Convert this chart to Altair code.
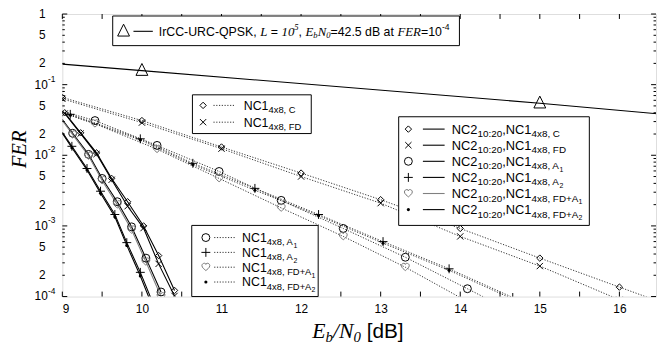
import altair as alt
import pandas as pd

# ---------------- values ----------------
x_tick_labels = [9, 10, 11, 12, 13, 14, 15, 16]
x_tick_all = [9, 9.5, 10, 10.5, 11, 11.5, 12, 12.5, 13, 13.5, 14, 14.5, 15, 15.5, 16]
y_decades = [1, 0.1, 0.01, 0.001, 0.0001]
y_digit_vals = [1, 0.5, 0.2, 0.05, 0.02, 0.005, 0.002, 5e-4, 2e-4]
y_digit_txt = ["1", "5", "2", "5", "2", "5", "2", "5", "2"]
y_pow_vals = [0.1, 0.01, 0.001, 1e-4]
y_pow_txt = ["-1", "-2", "-3", "-4"]
y_minor = [m * d for d in [0.1, 0.01, 0.001, 0.0001] for m in range(2, 10)]

# IrCC-URC-QPSK reference line
irc_x = [9.0, 10.0, 15.0, 16.5]
irc_fer = [0.195, 0.158, 0.0546, 0.0385]
irc_mk = [0, 1, 1, 0]

# NC1 (dotted)
nc1_c_x = [9, 10, 11, 12, 13, 14, 15, 16, 17]
nc1_c_fer = [0.066, 0.031, 0.0131, 0.0056, 0.00235, 9.2e-4, 3.5e-4, 1.36e-4, 5.3e-5]
nc1_fd_x = [9, 10, 11, 12, 13, 14, 15, 16]
nc1_fd_fer = [0.063, 0.029, 0.0124, 0.0050, 0.0021, 7.1e-4, 2.7e-4, 9.0e-5]
nc1_a1_x = [9.0, 9.41, 10.19, 10.97, 11.75, 12.53, 13.31, 14.09, 14.87]
nc1_a1_fer = [0.042, 0.031, 0.0138, 0.0059, 0.0023, 9.2e-4, 3.6e-4, 1.29e-4, 4.6e-5]
nc1_fda1_fer = [0.040, 0.028, 0.0122, 0.0047, 0.0018, 7.1e-4, 2.6e-4, 8.5e-5, 3.0e-5]
nc1_a_mk = [0, 1, 1, 1, 1, 1, 1, 1, 1]
nc1_a2_x = [9.0, 9.1, 9.98, 10.64, 11.42, 12.22, 13.03, 13.86, 14.66]
nc1_a2_fer = [0.041, 0.038, 0.0171, 0.0077, 0.0034, 0.00145, 6.0e-4, 2.47e-4, 9.7e-5]
nc1_fda2_fer = [0.040, 0.037, 0.0165, 0.0074, 0.0032, 0.0014, 5.7e-4, 2.35e-4, 9.2e-5]

# NC2_10:20 + NC1 (solid)
nc2_c_x = [9.03, 9.23, 9.43, 9.62, 9.82, 10.02, 10.21, 10.41]
nc2_c_fer = [0.040, 0.0208, 0.0108, 0.0047, 0.0022, 0.0010, 3.8e-4, 1.22e-4]
nc2_fd_fer = [0.039, 0.0203, 0.0104, 0.0045, 0.0019, 9.3e-4, 2.9e-4, 1.02e-4]
nc2_a1_x = [9.0, 9.13, 9.33, 9.50, 9.69, 9.87, 10.05, 10.24]
nc2_a1_fer = [0.032, 0.0205, 0.0103, 0.0047, 0.0022, 9.7e-4, 3.5e-4, 1.16e-4]
nc2_fda1_fer = [0.031, 0.0196, 0.0098, 0.0044, 0.0020, 8.8e-4, 3.1e-4, 1.0e-4]
nc2_a2_x = [9.0, 9.12, 9.31, 9.48, 9.66, 9.81, 9.98, 10.15]
nc2_a2_fer = [0.0212, 0.0134, 0.0065, 0.0031, 0.00145, 5.8e-4, 2.2e-4, 7.5e-5]
nc2_fda2_fer = [0.0205, 0.0128, 0.0062, 0.0029, 0.00135, 5.3e-4, 1.95e-4, 6.5e-5]
nc2_mk_first_off = [0, 1, 1, 1, 1, 1, 1, 1]
nc2_mk_all = [1, 1, 1, 1, 1, 1, 1, 1]

series = [
    ("irc", irc_x, irc_fer, irc_mk, "irc", "tri"),
    ("nc1_c", nc1_c_x, nc1_c_fer, [1] * 9, "dot", "diamond"),
    ("nc1_fd", nc1_fd_x, nc1_fd_fer, [1] * 8, "dot", "x"),
    ("nc1_a1", nc1_a1_x, nc1_a1_fer, nc1_a_mk, "dot", "circle"),
    ("nc1_fda1", nc1_a1_x, nc1_fda1_fer, nc1_a_mk, "dot", "heart"),
    ("nc1_a2", nc1_a2_x, nc1_a2_fer, nc1_a_mk, "dot", "plus"),
    ("nc1_fda2", nc1_a2_x, nc1_fda2_fer, nc1_a_mk, "dot", "dotm"),
    ("nc2_c", nc2_c_x, nc2_c_fer, nc2_mk_all, "solid", "diamond"),
    ("nc2_fd", nc2_c_x, nc2_fd_fer, nc2_mk_all, "solid", "x"),
    ("nc2_a1", nc2_a1_x, nc2_a1_fer, nc2_mk_first_off, "solid", "circle"),
    ("nc2_fda1", nc2_a1_x, nc2_fda1_fer, nc2_mk_first_off, "gray", "heart"),
    ("nc2_a2", nc2_a2_x, nc2_a2_fer, nc2_mk_first_off, "solid", "plus"),
    ("nc2_fda2", nc2_a2_x, nc2_fda2_fer, nc2_mk_first_off, "solid", "dotm"),
]

# ---------------- layout ----------------
W, H = 601, 286
OX, OY = 63, 12  # page position of plot origin

HEART = ("M0,0.85 C-0.25,0.6 -1,0.15 -1,-0.4 C-1,-0.8 -0.65,-1 -0.35,-1 "
         "C-0.15,-1 0,-0.85 0,-0.7 C0,-0.85 0.15,-1 0.35,-1 C0.65,-1 1,-0.8 1,-0.4 "
         "C1,0.15 0.25,0.6 0,0.85 Z")
SHAPES = {
    "diamond": ("diamond", 42, False, "black"),
    "x": ("M-1,-1L1,1M-1,1L1,-1", 40, False, "black"),
    "circle": ("circle", 64, False, "black"),
    "plus": ("M-1,0L1,0M0,-1L0,1", 81, False, "black"),
    "heart": (HEART, 64, False, "#777777"),
    "dotm": ("circle", 10, True, "black"),
    "tri": ("M0,-1.2L-1,0.8L1,0.8Z", 144, False, "black"),
}
LINESTYLE = {
    "irc": dict(color="black", strokeWidth=1.1),
    "dot": dict(color="#333333", strokeWidth=1, strokeDash=[1.2, 1.6]),
    "solid": dict(color="black", strokeWidth=1.1),
    "gray": dict(color="#808080", strokeWidth=1.1),
}

line_rows, mark_rows = [], []
for name, xs, fs, mk, sty, shp in series:
    for i, (xv, fv) in enumerate(zip(xs, fs)):
        line_rows.append(dict(s=name, o=i, x=xv, fer=fv, sty=sty))
        if mk[i]:
            mark_rows.append(dict(s=name, x=xv, fer=fv, shp=shp))
lines = pd.DataFrame(line_rows)
marks = pd.DataFrame(mark_rows)

xs_ = alt.Scale(domain=[9, 16.46], nice=False, zero=False)
ys_ = alt.Scale(type="log", domain=[1e-4, 1], nice=False)
xaxis = alt.Axis(values=x_tick_labels, format="d", labelFontSize=12, labelFont="Liberation Sans",
                 labelColor="black", ticks=False, domain=False, grid=False, labelPadding=7, title=None)
X = alt.X("x:Q", scale=xs_, axis=xaxis)
Y = alt.Y("fer:Q", scale=ys_, axis=None)

layers = []
for sty, kw in LINESTYLE.items():
    d = lines[lines.sty == sty]
    layers.append(alt.Chart(d).mark_line(clip=True, **kw).encode(
        x=X, y=Y, detail="s:N", order="o:Q"))
for shp, (shape, size, filled, col) in SHAPES.items():
    d = marks[marks.shp == shp]
    if len(d) == 0:
        continue
    layers.append(alt.Chart(d).mark_point(shape=shape, size=size, filled=filled, color=col,
                                          strokeWidth=1, opacity=1, clip=True).encode(x=X, y=Y))

# ticks (inward, all four sides)
xt = pd.DataFrame({"x": x_tick_all})
for y0, y1 in [(H - 5, H), (0, 5)]:
    layers.append(alt.Chart(xt).mark_rule(color="black", strokeWidth=1).encode(
        x=X, y=alt.value(y0), y2=alt.value(y1)))
for vals, ln in [(y_decades, 5), (y_minor, 2.5)]:
    yt = pd.DataFrame({"fer": vals})
    for x0, x1 in [(0, ln), (W - ln, W)]:
        layers.append(alt.Chart(yt).mark_rule(color="black", strokeWidth=1).encode(
            y=Y, x=alt.value(x0), x2=alt.value(x1)))

# y tick labels
ydig = pd.DataFrame({"fer": y_digit_vals, "t": y_digit_txt})
layers.append(alt.Chart(ydig).mark_text(align="right", baseline="middle", font="Liberation Sans",
                                        fontSize=12, color="black").encode(
    y=Y, x=alt.value(-17), text="t:N"))
ydec = pd.DataFrame({"fer": y_pow_vals, "t": ["10"] * 4, "e": y_pow_txt})
layers.append(alt.Chart(ydec).mark_text(align="right", baseline="middle", font="Liberation Sans",
                                        fontSize=12, color="black").encode(
    y=Y, x=alt.value(-14.7), text="t:N"))
layers.append(alt.Chart(ydec).mark_text(align="left", baseline="middle", font="Liberation Sans",
                                        fontSize=8.5, dy=-6, color="black").encode(
    y=Y, x=alt.value(-14.5), text="e:N"))

# ---------------- legends & titles (pixel layout) ----------------
SANS_W = {' ': 278, ',': 278, '-': 333, '.': 278, ':': 278, '=': 584, '+': 584, '[': 278, ']': 278,
          'A': 667, 'B': 667, 'C': 722, 'D': 722, 'E': 667, 'F': 611, 'I': 278, 'K': 667, 'L': 556,
          'N': 722, 'P': 667, 'Q': 778, 'R': 722, 'S': 667, 'U': 722, 'a': 556, 'b': 556, 'd': 556,
          'r': 333, 't': 278, 'x': 500}
SER_W = {'E': 611, 'N': 667, 'F': 611, 'R': 611, 'L': 556, 'b': 500, '/': 278, ' ': 250}


def tw(s, fam, fs):
    tab, dflt = (SANS_W, 556) if fam == "sans" else (SER_W, 500)
    return sum(tab.get(c, dflt) for c in s) / 1000.0 * fs


segs = []


def runs(x, y, parts):
    for t, fam, fs, dy in parts:
        core = t.lstrip(" ")
        x += tw(t[: len(t) - len(core)], fam, fs)
        if core:
            segs.append(dict(px=x - OX, py=y + dy - OY, text=core, fs=fs, fam=fam))
        x += tw(core, fam, fs)


boxes, samples, lmarks = [], [], []


def box(x1, y1, x2, y2):
    boxes.append(dict(x1=x1 - OX, x2=x2 - OX, y1=y1 - OY, y2=y2 - OY))


def sample(x1, x2, y, sty):
    samples.append(dict(x1=x1 - OX, x2=x2 - OX, y=y - OY, sty=sty))


def lmark(x, y, shp):
    lmarks.append(dict(px=x - OX, py=y - OY, shp=shp))


# IrCC legend
box(114, 14, 465, 44)
lmark(125, 29.5, "tri")
sample(135, 154.6, 29.5, "irc")
runs(160.6, 34, [("IrCC-URC-QPSK, ", "sans", 12.5, 0), ("L", "ser", 13, 0), (" = ", "sans", 12.5, 0),
                 ("10", "ser", 13, 0), ("5", "ser", 8.7, -5.5), (", ", "sans", 12.5, 0),
                 ("E", "ser", 13, 0), ("b", "ser", 8.7, 2.5), ("N", "ser", 13, 0),
                 ("0", "ser", 8.7, 2.5), ("=42.5 dB at ", "sans", 12.5, 0), ("FER", "ser", 13, 0),
                 ("=10", "sans", 12.5, 0), ("-4", "sans", 8.7, -5.5)])

SUFFIX = {"diamond": ("C", ""), "x": ("FD", ""), "circle": ("A", "1"), "plus": ("A", "2"),
          "heart": ("FD+A", "1"), "dotm": ("FD+A", "2")}


def nc_parts(shp, nc2, fm, fsub):
    a, b = SUFFIX[shp]
    p = []
    if nc2:
        p += [("NC2", "sans", fm, 0), ("10:20", "sans", fsub, 3.5), (",NC1", "sans", fm, 0)]
    else:
        p += [("NC1", "sans", fm, 0)]
    p += [("4x8, " + a, "sans", fsub, 3.5)]
    if b:
        p += [(b, "sans", 7, 6)]
    return p


# NC1 upper legend (C, FD)
box(194.7, 93.8, 315, 133)
for i, shp in enumerate(["diamond", "x"]):
    yc = 104.5 + 17 * i
    lmark(205.5, yc, shp)
    sample(216, 237, yc, "dot")
    runs(246.7, yc + 4.5, nc_parts(shp, False, 12.5, 9.5))

# NC2 legend
box(403.5, 116, 596.5, 226)
for i, shp in enumerate(["diamond", "x", "circle", "plus", "heart", "dotm"]):
    yc = 128.5 + 16.3 * i
    lmark(413.3, yc, shp)
    sample(428, 450, yc, "gray" if shp == "heart" else "solid")
    runs(457.3, yc + 4.6, nc_parts(shp, True, 13, 10))

# NC1 lower legend
box(194, 226, 322, 298)
for i, shp in enumerate(["circle", "plus", "heart", "dotm"]):
    yc = 238.3 + 15 * i
    lmark(208.3, yc, shp)
    sample(216.7, 238.3, yc, "dot")
    runs(245, yc + 4.5, nc_parts(shp, False, 12.5, 9.5))

# x-axis title
runs(316, 340, [("E", "ser", 22, 0), ("b", "ser", 15, 4), ("/", "ser", 22, 0), ("N", "ser", 22, 0),
                ("0", "ser", 15, 4), (" [dB]", "sans", 21, 0)])

PX = dict(scale=None, axis=None)
bx = pd.DataFrame(boxes)
layers.append(alt.Chart(bx).mark_rect(fill="white", stroke="black", strokeWidth=1).encode(
    x=alt.X("x1:Q", **PX), x2="x2:Q", y=alt.Y("y1:Q", **PX), y2="y2:Q"))
sm = pd.DataFrame(samples)
for sty, kw in LINESTYLE.items():
    d = sm[sm.sty == sty]
    if len(d) == 0:
        continue
    layers.append(alt.Chart(d).mark_rule(**kw).encode(
        x=alt.X("x1:Q", **PX), x2="x2:Q", y=alt.Y("y:Q", **PX)))
lm = pd.DataFrame(lmarks)
for shp, (shape, size, filled, col) in SHAPES.items():
    d = lm[lm.shp == shp]
    if len(d) == 0:
        continue
    layers.append(alt.Chart(d).mark_point(shape=shape, size=size, filled=filled, color=col,
                                          strokeWidth=1, opacity=1).encode(
        x=alt.X("px:Q", **PX), y=alt.Y("py:Q", **PX)))
sg = pd.DataFrame(segs)
for fam, font, style in [("sans", "Liberation Sans", "normal"), ("ser", "Liberation Serif", "italic")]:
    d = sg[sg.fam == fam]
    layers.append(alt.Chart(d).mark_text(align="left", baseline="alphabetic", font=font,
                                         fontStyle=style, color="black").encode(
        x=alt.X("px:Q", **PX), y=alt.Y("py:Q", **PX), text="text:N",
        size=alt.Size("fs:Q", scale=None, legend=None)))

# y-axis title (rotated)
yt_df = pd.DataFrame({"px": [20 - OX], "py": [149 - OY], "t": ["FER"]})
layers.append(alt.Chart(yt_df).mark_text(angle=270, align="center", baseline="middle",
                                         font="Liberation Serif", fontStyle="italic",
                                         fontSize=21, color="black").encode(
    x=alt.X("px:Q", **PX), y=alt.Y("py:Q", **PX), text="t:N"))

chart = alt.layer(*layers).properties(
    width=W, height=H,
    autosize=alt.AutoSizeParams(type="none"),
    padding={"left": 55, "top": 4, "right": 1, "bottom": 50},
).configure_view(stroke="black", strokeWidth=1).configure(background="white")

chart.save("out.html", embed_options={"renderer": "svg", "actions": False})
